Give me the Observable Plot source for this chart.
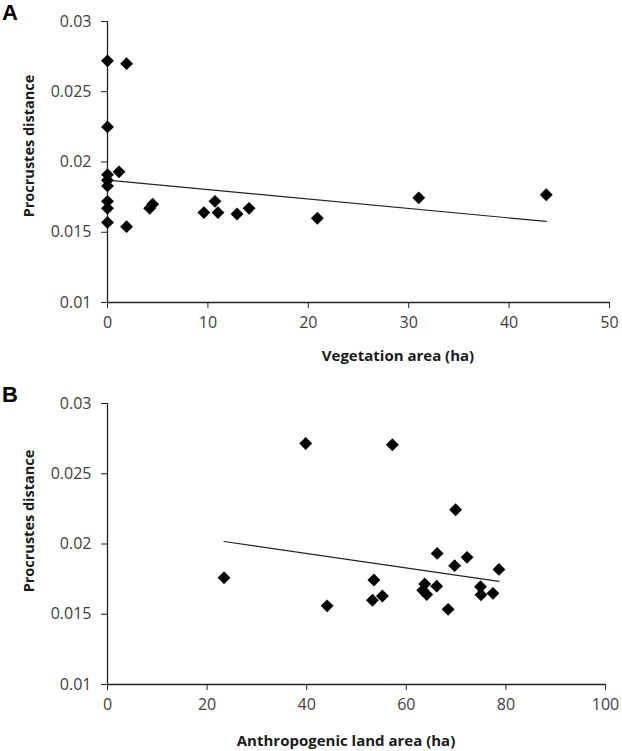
<!DOCTYPE html>
<html>
<head>
<meta charset="utf-8">
<script src="https://cdn.jsdelivr.net/npm/d3@7"></script>
<script src="https://cdn.jsdelivr.net/npm/@observablehq/plot@0.6"></script>
<style>
  html, body { margin: 0; padding: 0; background: #fff; }
  #wrap { position: relative; width: 622px; height: 751px; overflow: hidden; }
  .panel { position: absolute; left: 0; }
  .letter { position: absolute; font-family: "Liberation Sans", Arial, sans-serif; font-weight: bold; font-size: 22px; color: #000; line-height: 25px; }
  .title { position: absolute; font-family: "Open Sans", sans-serif; font-weight: bold; font-size: 15px; color: #1a1a1a; white-space: nowrap; transform: translate(-50%, -50%); }
  .title.rot { transform: translate(-50%, -50%) rotate(-90deg); font-size: 14.5px; }
</style>
</head>
<body>
<div id="wrap">
  <div class="panel" id="pa" style="top:0"></div>
  <div class="panel" id="pb" style="top:370px"></div>
  <div class="letter" style="left:2px;top:0px">A</div>
  <div class="letter" style="left:2px;top:382px">B</div>
  <div class="title" id="xa" style="left:398px;top:355px"></div>
  <div class="title" id="xb" style="left:346px;top:740px"></div>
  <div class="title rot" id="ya" style="left:28px;top:146px"></div>
  <div class="title rot" id="yb" style="left:28px;top:521px"></div>
</div>
<script>
// Panel A: vegetation area (ha) vs Procrustes distance
const vegArea = [0, 0, 0, 0, 0, 0, 0, 0, 1.9, 1.15, 1.9, 4.2, 4.5, 9.6, 10.7, 11.0, 12.9, 14.1, 20.9, 31.0, 43.7];
const vegDist = [0.0272, 0.0225, 0.0191, 0.0187, 0.0183, 0.0172, 0.0167, 0.0157, 0.0270, 0.0193, 0.0154, 0.0167, 0.0170, 0.0164, 0.0172, 0.0164, 0.0163, 0.0167, 0.0160, 0.01745, 0.01767];
const vegTrendX = [0, 43.7];
const vegTrendY = [0.01871, 0.01577];

// Panel B: anthropogenic land area (ha) vs Procrustes distance
const anthArea = [23.4, 39.8, 57.2, 44.1, 53.2, 53.5, 55.2, 63.3, 63.7, 64.1, 66.1, 66.2, 68.4, 69.7, 69.9, 72.2, 74.9, 75.0, 77.4, 78.6];
const anthDist = [0.0176, 0.02715, 0.02706, 0.0156, 0.0160, 0.01744, 0.0163, 0.0167, 0.01715, 0.0164, 0.0170, 0.01933, 0.01535, 0.01846, 0.02244, 0.01905, 0.01696, 0.01639, 0.01649, 0.01819];
const anthTrendX = [23.4, 78.6];
const anthTrendY = [0.02018, 0.01734];

const yTicks = [0.01, 0.015, 0.02, 0.025, 0.03];
const xTicksA = [0, 10, 20, 30, 40, 50];
const xTicksB = [0, 20, 40, 60, 80, 100];
const yTitle = "Procrustes distance";
const xTitleA = "Vegetation area (ha)";
const xTitleB = "Anthropogenic land area (ha)";

const toRows = (xs, ys) => xs.map((x, i) => ({x, y: ys[i]}));

function panel({pts, trend, xDomain, xTicks, height, marginTop, marginBottom, marginRight}) {
  return Plot.plot({
    width: 622,
    height,
    marginLeft: 107,
    marginRight,
    marginTop,
    marginBottom,
    style: {fontFamily: "'Open Sans', sans-serif", fontSize: "16px", color: "#404040", background: "#fff", overflow: "visible"},
    x: {domain: xDomain},
    y: {domain: [0.01, 0.03]},
    marks: [
      Plot.axisY({ticks: yTicks, tickSize: 6, tickPadding: 10, tickFormat: d => String(+d.toFixed(3)),
        label: null, stroke: "#222"}),
      Plot.axisX({ticks: xTicks, tickSize: 6, tickPadding: 8, tickFormat: d => String(d),
        label: null, stroke: "#222"}),
      Plot.ruleX([0], {stroke: "#222", strokeWidth: 1.3}),
      Plot.ruleY([0.01], {stroke: "#222", strokeWidth: 1.3}),
      Plot.line(trend, {x: "x", y: "y", stroke: "#222", strokeWidth: 1.2}),
      Plot.dot(pts, {x: "x", y: "y", symbol: "diamond2", r: 5.8, fill: "#000", stroke: "none"})
    ]
  });
}

document.getElementById("pa").append(panel({
  pts: toRows(vegArea, vegDist),
  trend: toRows(vegTrendX, vegTrendY),
  xDomain: [0, 50], xTicks: xTicksA,
  height: 370, marginTop: 21, marginBottom: 68, marginRight: 13
}));
document.getElementById("pb").append(panel({
  pts: toRows(anthArea, anthDist),
  trend: toRows(anthTrendX, anthTrendY),
  xDomain: [0, 100], xTicks: xTicksB,
  height: 381, marginTop: 33, marginBottom: 67, marginRight: 17
}));
document.getElementById("xa").textContent = xTitleA;
document.getElementById("xb").textContent = xTitleB;
document.getElementById("ya").textContent = yTitle;
document.getElementById("yb").textContent = yTitle;
</script>
</body>
</html>
